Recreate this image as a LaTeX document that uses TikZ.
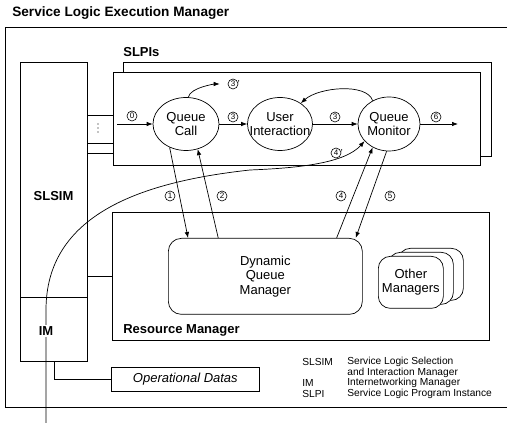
\documentclass[tikz,border=0pt]{standalone}
\usepackage{fontspec}
\setmainfont{Liberation Sans}
\usetikzlibrary{shapes.geometric,arrows.meta,calc}
\begin{document}
\begin{tikzpicture}[x=1pt,y=-1pt,
  line width=0.7pt,
  every node/.style={inner sep=0pt},
  fnt/.style={font=\fontsize{13}{14.5}\selectfont},
  bfl/.style={font=\bfseries\fontsize{13}{14}\selectfont},
  box/.style={draw,fill=white,rectangle,anchor=north west},
  ell/.style={draw,fill=white,ellipse},
  cn/.style={draw,circle,line width=0.6pt,minimum size=10pt,font=\fontsize{8}{8}\selectfont},
  arr/.style={-{Latex[length=6pt,width=4.5pt]}},
  leg/.style={anchor=west,font=\fontsize{10.2}{10.2}\selectfont}
]
\useasboundingbox (0,0) rectangle (507,427);

% title and outer frame
\node[anchor=west,font=\bfseries\fontsize{13.6}{14}\selectfont] (title) at (12,13) {Service Logic Execution Manager};
\draw (507,27) -- (5,27) -- (5,407) -- (507,407);

% SLSIM / IM
\node[box,minimum width=67pt,minimum height=235pt] (slsim) at (20,62) {};
\node[box,minimum width=67pt,minimum height=64pt] (im) at (20,297) {};
\node[bfl] (slsimlbl) at (53.5,196) {SLSIM};

% SLPI boxes
\node[anchor=west,font=\bfseries\fontsize{13}{14}\selectfont] (slpilbl) at (123,52) {SLPIs};
\node[box,minimum width=368pt,minimum height=94pt] (slpib) at (123,62) {};
\node[box,minimum width=367pt,minimum height=93pt] (slpi) at (113,72) {};

% connectors SLSIM - SLPI
\draw (slsim.east |- 0,115) -- (slpi.west |- 0,115);
\draw (slsim.east |- 0,143) -- (slpi.west |- 0,143);
\draw (slsim.east |- 0,153) -- (slpi.west |- 0,153);
\fill (98,124) circle (0.6pt) (98,128) circle (0.6pt) (98,132) circle (0.6pt);

% Resource manager
\node[box,minimum width=377pt,minimum height=128pt] (rm) at (112,212) {};
\node[bfl,anchor=west] (rmlbl) at (123,330) {Resource Manager};
\draw (rm.west -| slsim.east) -- (rm.west);
\node[box,rounded corners=13pt,minimum width=194pt,minimum height=76pt,align=center,fnt] (dqm) at (168,238) {Dynamic\\Queue\\Manager};
\node[box,rounded corners=12pt,minimum width=65pt,minimum height=52pt] (om3) at (398,248) {};
\node[box,rounded corners=12pt,minimum width=65pt,minimum height=52pt] (om2) at (388,252) {};
\node[box,rounded corners=12pt,minimum width=65pt,minimum height=52pt,align=center,fnt] (om1) at (378,256) {Other\\Managers};

% Operational datas
\node[box,minimum width=148pt,minimum height=24pt,font=\itshape\fontsize{13}{14}\selectfont] (od) at (111,367) {Operational Datas};
\draw (im.south) |- (od.west);

% ellipses
\node[ell,minimum width=66pt,minimum height=53pt,label={[fnt,align=center]center:Queue\\Call}] (qc) at (186,124) {};
\node[ell,minimum width=65pt,minimum height=53pt,label={[fnt,align=center]center:User\\Interaction}] (ui) at (280,124) {};
\node[ell,minimum width=62pt,minimum height=54pt,label={[fnt,align=center]center:Queue\\Monitor}] (qm) at (389,124) {};

% flow arrows
\coordinate (in0) at (117,124);
\coordinate (out6) at (458,124);
\draw[arr] (in0) -- (qc.west);
\draw[arr] (qc.east) -- (ui.west);
\draw[arr] (ui.east) -- (qm.west);
\draw[arr] (qm.east) -- (out6);

% number labels
\node[cn] (n0) at (132,116) {0};
\node[cn] (n3a) at (233,117) {3};
\node[cn] (n3b) at (335,117) {3};
\node[cn] (n6) at (436,117) {6};
\node[cn,label={[inner sep=0.5pt,anchor=north west,font=\fontsize{10}{10}\selectfont]north east:{'}}] (n3p) at (233,84) {3};
\node[cn] (n1) at (170,196) {1};
\node[cn] (n2) at (222,196) {2};
\node[cn] (n4) at (341,196) {4};
\node[cn] (n5) at (390,196) {5};
\node[cn,label={[inner sep=0.5pt,anchor=north west,font=\fontsize{10}{10}\selectfont]north east:{'}}] (n4p) at (336,153) {4};

% curved arrows
\draw[arr,shorten >=8pt] (qc.85) .. controls +(2,-10) and +(-12,0) .. (n3p.west);
\draw[arr] (qm.125) .. controls +(-6,-18) and +(18,-16) .. (ui.45);

% arrows to/from DQM
\draw[arr] (qc.235) -- ($(dqm.north west)!0.103!(dqm.north east)$);
\draw[arr] ($(dqm.north west)!0.258!(dqm.north east)$) -- (qc.295);
\draw[arr] ($(dqm.north west)!0.866!(dqm.north east)$) -- (qm.235);
\draw[arr] (qm.265) -- ($(dqm.north east)+(-7,0)$);

% IM long curve (4')
\coordinate (imin) at (46,423);
\draw[arr] (imin) -- (46,310) .. controls (46,215) and (140,182) .. (250,170) .. controls (300,168) and (345,163) .. (qm.215);
\node[bfl,fill=white,inner sep=1.5pt] (imlbl) at (46,331) {IM};

% legend
\node[leg] (l1a) at (302,362) {SLSIM};
\node[leg] (l1b) at (347,362) {Service Logic Selection};
\node[leg] (l1c) at (347,372.5) {and Interaction Manager};
\node[leg] (l2a) at (302,383) {IM};
\node[leg] (l2b) at (347,383) {Internetworking Manager};
\node[leg] (l3a) at (302,393.5) {SLPI};
\node[leg] (l3b) at (347,393.5) {Service Logic Program Instance};
\end{tikzpicture}
\end{document}
